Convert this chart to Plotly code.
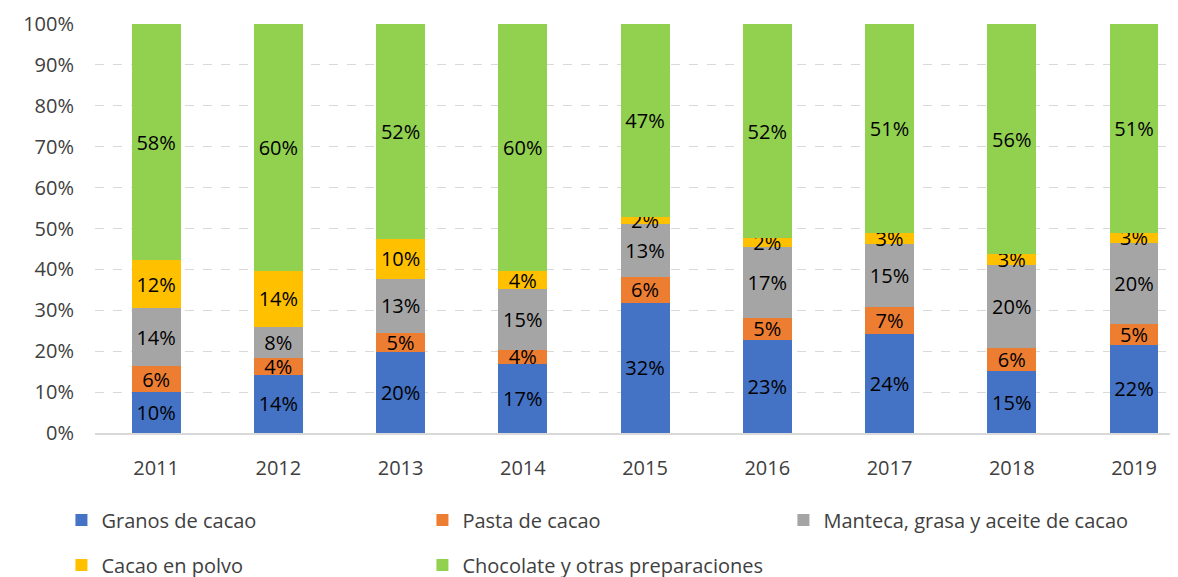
import plotly.graph_objects as go

years = ["2011", "2012", "2013", "2014", "2015", "2016", "2017", "2018", "2019"]
granos = [10.1, 14.2, 19.8, 16.8, 31.8, 22.8, 24.2, 15.1, 21.6]
pasta = [6.2, 4.2, 4.7, 3.6, 6.4, 5.4, 6.7, 5.6, 5.0]
manteca = [14.2, 7.6, 13.1, 14.8, 12.9, 17.3, 15.4, 20.4, 19.8]
polvo = [11.7, 13.7, 9.9, 4.4, 1.6, 2.1, 2.6, 2.6, 2.6]
chocolate = [57.8, 60.3, 52.4, 60.4, 47.2, 52.4, 51.1, 56.3, 51.0]

series = [
    ("Granos de cacao", granos, "#4472C4", "legend"),
    ("Pasta de cacao", pasta, "#ED7D31", "legend"),
    ("Manteca, grasa y aceite de cacao", manteca, "#A5A5A5", "legend"),
    ("Cacao en polvo", polvo, "#FFC000", "legend2"),
    ("Chocolate y otras preparaciones", chocolate, "#92D050", "legend2"),
]

FONT = "Open Sans"
fig = go.Figure()
for name, vals, color, lg in series:
    fig.add_trace(go.Bar(
        x=years, y=vals, name=name, legend=lg,
        marker=dict(color=color, line=dict(width=0)),
        text=vals, texttemplate="%{text:.0f}%",
        textposition="inside", insidetextanchor="middle", textangle=0,
        constraintext="none",
        textfont=dict(family=FONT, size=20, color="#000000"),
    ))

legend_common = dict(
    orientation="h", xanchor="left", yanchor="middle",
    font=dict(family=FONT, size=20, color="#404040"),
    entrywidth=316, entrywidthmode="pixels",
    itemwidth=30, bgcolor="rgba(0,0,0,0)", traceorder="normal",
)

fig.update_layout(
    width=1178, height=577,
    margin=dict(l=87, r=8, t=16, b=152, autoexpand=False),
    paper_bgcolor="white", plot_bgcolor="white",
    barmode="stack", barnorm="percent", bargap=0.6,
    font=dict(family=FONT, size=20, color="#404040"),
    legend=dict(x=-0.031, y=-0.213, **legend_common),
    legend2=dict(x=-0.031, y=-0.323, **legend_common),
    xaxis=dict(
        range=[-0.5, 8.36], showgrid=False, zeroline=False,
        showline=True, linecolor="#D9D9D9", linewidth=1.5,
        ticks="", ticklabelstandoff=16,
        tickfont=dict(family=FONT, size=20, color="#404040"),
    ),
    yaxis=dict(
        range=[0, 100], dtick=10, ticksuffix="%",
        showgrid=True, gridcolor="#D9D9D9", griddash="dash", gridwidth=1,
        zeroline=False, showline=False, ticks="", ticklabelstandoff=20,
        tickfont=dict(family=FONT, size=20, color="#404040"),
    ),
)

fig.write_html("out.html")
